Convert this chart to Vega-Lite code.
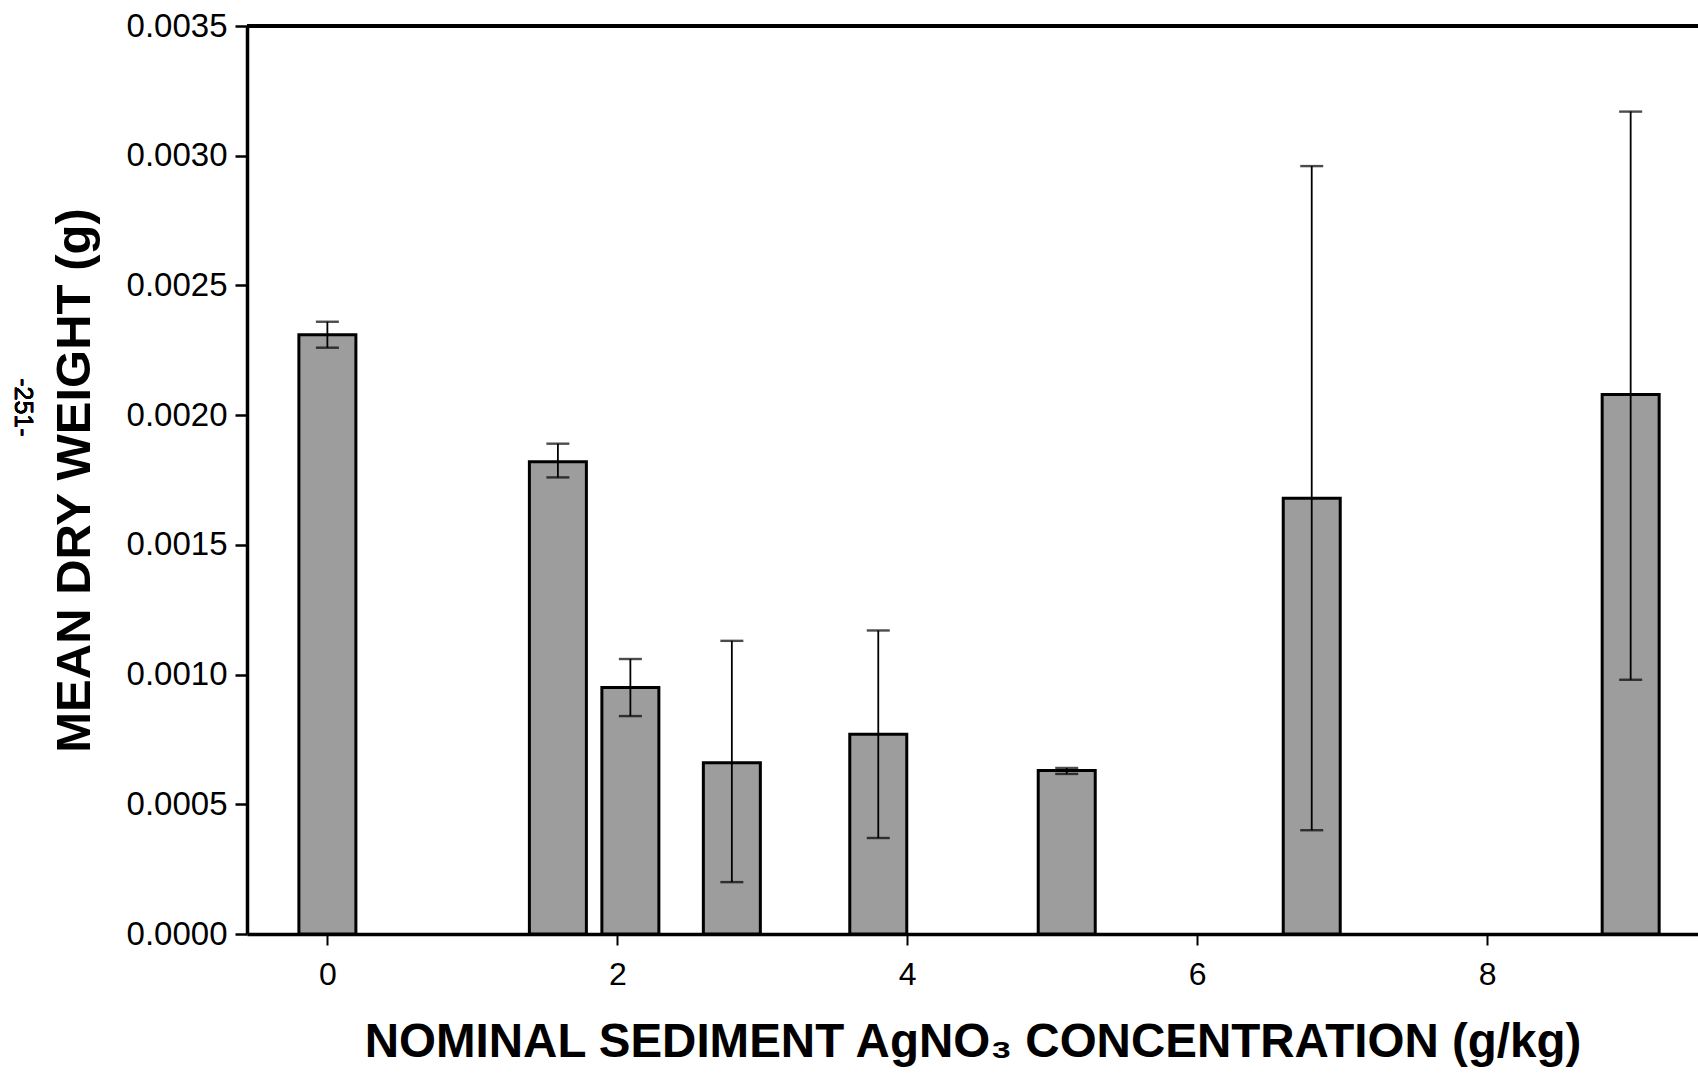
{
  "$schema": "https://vega.github.io/schema/vega-lite/v6.json",
  "width": 1451,
  "height": 908,
  "autosize": "none",
  "padding": {"left": 247, "top": 26, "right": 0, "bottom": 139},
  "background": "white",
  "config": {
    "view": {"stroke": null},
    "font": "Liberation Sans",
    "axis": {"grid": false, "domainColor": "black", "tickColor": "black", "labelColor": "black", "titleColor": "black", "labelFont": "Liberation Sans", "titleFont": "Liberation Sans"}
  },
  "data": {
    "values": [
      {"conc": 0.0, "mean": 0.00231, "lo": 0.00226, "hi": 0.00236},
      {"conc": 1.59, "mean": 0.00182, "lo": 0.00176, "hi": 0.00189},
      {"conc": 2.09, "mean": 0.00095, "lo": 0.00084, "hi": 0.00106},
      {"conc": 2.79, "mean": 0.00066, "lo": 0.00020, "hi": 0.00113},
      {"conc": 3.80, "mean": 0.00077, "lo": 0.00037, "hi": 0.00117},
      {"conc": 5.10, "mean": 0.00063, "lo": 0.000617, "hi": 0.00064},
      {"conc": 6.79, "mean": 0.00168, "lo": 0.00040, "hi": 0.00296},
      {"conc": 8.99, "mean": 0.00208, "lo": 0.00098, "hi": 0.00317}
    ]
  },
  "layer": [
    {
      "mark": {"type": "bar", "width": 57, "fill": "#9d9d9d", "stroke": "black", "strokeWidth": 3},
      "encoding": {
        "x": {
          "field": "conc", "type": "quantitative",
          "scale": {"domain": [-0.52, 9.42], "nice": false, "zero": false},
          "axis": {
            "values": [0, 2, 4, 6, 8], "format": "d",
            "title": "NOMINAL SEDIMENT AgNO₃ CONCENTRATION (g/kg)",
            "titleFontSize": 47.5, "titleFontWeight": "bold", "titlePadding": 28,
            "labelFontSize": 32, "labelPadding": 14,
            "tickSize": 11, "tickWidth": 2, "domainWidth": 3.5
          }
        },
        "y": {
          "field": "mean", "type": "quantitative",
          "scale": {"domain": [0, 0.0035], "nice": false},
          "axis": {
            "values": [0, 0.0005, 0.001, 0.0015, 0.002, 0.0025, 0.003, 0.0035],
            "format": ".4f",
            "title": "MEAN DRY WEIGHT (g)",
            "titleFontSize": 49, "titleFontWeight": "bold", "titlePadding": 27,
            "labelFontSize": 33, "labelPadding": 8,
            "tickSize": 12, "tickWidth": 2.5, "domainWidth": 3.5
          }
        }
      }
    },
    {
      "mark": {"type": "rule", "color": "black", "strokeWidth": 1.8},
      "encoding": {
        "x": {"field": "conc", "type": "quantitative"},
        "y": {"field": "lo", "type": "quantitative"},
        "y2": {"field": "hi"}
      }
    },
    {
      "mark": {"type": "tick", "orient": "horizontal", "color": "black", "size": 23, "thickness": 2.4},
      "encoding": {
        "x": {"field": "conc", "type": "quantitative"},
        "y": {"field": "hi", "type": "quantitative"}
      }
    },
    {
      "mark": {"type": "tick", "orient": "horizontal", "color": "black", "size": 23, "thickness": 2.4, "strokeDash": [3, 2]},
      "encoding": {
        "x": {"field": "conc", "type": "quantitative"},
        "y": {"field": "lo", "type": "quantitative"}
      }
    },
    {
      "mark": {"type": "rule", "color": "black", "strokeWidth": 3.5},
      "encoding": {"y": {"datum": 0.0035}}
    },
    {
      "mark": {"type": "text", "angle": 90, "fontSize": 25, "color": "black", "font": "Liberation Sans", "clip": false},
      "encoding": {
        "x": {"datum": -2.1},
        "y": {"datum": 0.00203},
        "text": {"value": "-251-"}
      }
    }
  ]
}
